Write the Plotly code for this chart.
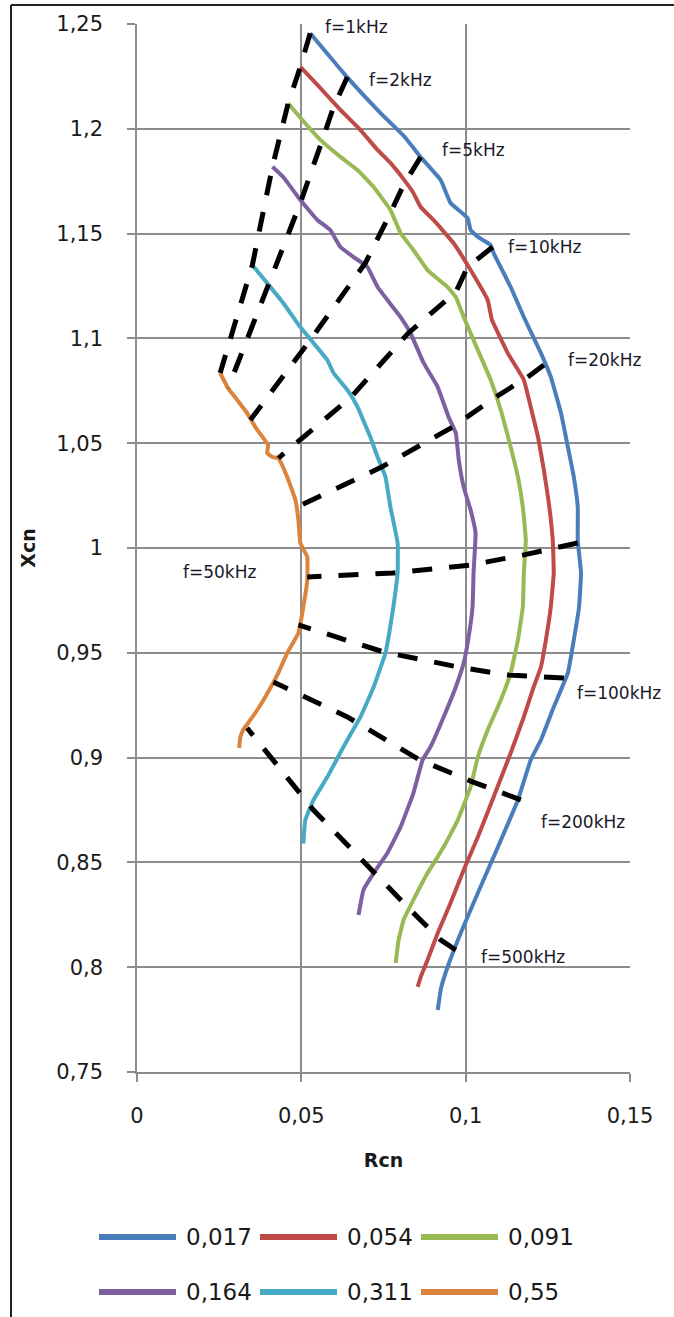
import plotly.graph_objects as go

# ---------------- data ----------------
series_names = ["0,017", "0,054", "0,091", "0,164", "0,311", "0,55"]
series_colors = ["#4A7EBB", "#BE4B48", "#98B954", "#7D60A0", "#46AAC5", "#DB843D"]

r_0017 = [0.0527, 0.0638, 0.0741, 0.0814, 0.0863, 0.0924, 0.0954, 0.1006, 0.1015, 0.1037, 0.1076, 0.1085,
          0.1137, 0.1177, 0.1229, 0.1259, 0.1290, 0.1311, 0.1329, 0.1341, 0.1341, 0.1351, 0.1345, 0.1329,
          0.1311, 0.1268, 0.1229, 0.1198, 0.1159, 0.1098, 0.1037, 0.0985, 0.0945, 0.0925, 0.0915]
x_0017 = [1.2456, 1.2249, 1.2075, 1.1962, 1.1865, 1.1756, 1.1646, 1.1574, 1.1517, 1.1484, 1.1446, 1.1407,
          1.1245, 1.1102, 1.0930, 1.0816, 1.0644, 1.0482, 1.0339, 1.0196, 1.0038, 0.9881, 0.9719, 0.9561,
          0.9404, 0.9241, 0.9084, 0.8989, 0.8798, 0.8573, 0.8354, 0.8163, 0.8001, 0.7900, 0.7796]

r_0054 = [0.0497, 0.0549, 0.0619, 0.0680, 0.0732, 0.0771, 0.0811, 0.0841, 0.0863, 0.0902, 0.0963, 0.1015,
          0.1067, 0.1080, 0.1128, 0.1177, 0.1198, 0.1220, 0.1238, 0.1253, 0.1265, 0.1268, 0.1259, 0.1244,
          0.1229, 0.1207, 0.1177, 0.1137, 0.1085, 0.1037, 0.0994, 0.0954, 0.0915, 0.0884, 0.0863, 0.0854]
x_0054 = [1.2296, 1.2209, 1.2090, 1.1994, 1.1899, 1.1837, 1.1760, 1.1694, 1.1627, 1.1565, 1.1455, 1.1326,
          1.1183, 1.1088, 1.0930, 1.0802, 1.0673, 1.0530, 1.0372, 1.0215, 1.0038, 0.9881, 0.9719, 0.9561,
          0.9432, 0.9337, 0.9194, 0.9022, 0.8812, 0.8621, 0.8464, 0.8306, 0.8163, 0.8034, 0.7953, 0.7906]

r_0091 = [0.0460, 0.0503, 0.0558, 0.0619, 0.0671, 0.0720, 0.0771, 0.0802, 0.0841, 0.0884, 0.0945, 0.0970,
          0.0994, 0.1037, 0.1076, 0.1107, 0.1137, 0.1159, 0.1174, 0.1183, 0.1177, 0.1174, 0.1159, 0.1137,
          0.1107, 0.1067, 0.1037, 0.1015, 0.0976, 0.0933, 0.0884, 0.0841, 0.0811, 0.0796, 0.0787]
x_0091 = [1.2122, 1.2042, 1.1947, 1.1866, 1.1803, 1.1722, 1.1613, 1.1503, 1.1422, 1.1326, 1.1245, 1.1198,
          1.1102, 1.0944, 1.0802, 1.0658, 1.0482, 1.0339, 1.0196, 1.0038, 0.9881, 0.9719, 0.9561, 0.9404,
          0.9275, 0.9132, 0.9003, 0.8860, 0.8702, 0.8573, 0.8449, 0.8321, 0.8225, 0.8130, 0.8020]

r_0164 = [0.0412, 0.0445, 0.0497, 0.0549, 0.0588, 0.0619, 0.0659, 0.0701, 0.0732, 0.0762, 0.0802, 0.0832,
          0.0872, 0.0915, 0.0948, 0.0970, 0.0979, 0.0994, 0.1015, 0.1030, 0.1024, 0.1021, 0.1009, 0.0994,
          0.0970, 0.0933, 0.0893, 0.0869, 0.0841, 0.0802, 0.0762, 0.0720, 0.0689, 0.0674]
x_0164 = [1.1819, 1.1770, 1.1660, 1.1565, 1.1517, 1.1436, 1.1388, 1.1341, 1.1245, 1.1183, 1.1102, 1.1026,
          1.0883, 1.0768, 1.0625, 1.0549, 1.0420, 1.0291, 1.0181, 1.0072, 0.9881, 0.9719, 0.9575, 0.9451,
          0.9337, 0.9194, 0.9051, 0.8989, 0.8831, 0.8669, 0.8545, 0.8449, 0.8368, 0.8249]

r_0311 = [0.0351, 0.0396, 0.0445, 0.0497, 0.0537, 0.0579, 0.0598, 0.0640, 0.0671, 0.0688, 0.0710, 0.0732,
          0.0756, 0.0771, 0.0793, 0.0793, 0.0780, 0.0768, 0.0756, 0.0720, 0.0680, 0.0628, 0.0579, 0.0537,
          0.0512, 0.0506]
x_0311 = [1.1350, 1.1264, 1.1169, 1.1054, 1.0978, 1.0897, 1.0835, 1.0754, 1.0673, 1.0611, 1.0530, 1.0434,
          1.0339, 1.0196, 1.0024, 0.9881, 0.9719, 0.9600, 0.9499, 0.9337, 0.9194, 0.9051, 0.8907, 0.8798,
          0.8702, 0.8590]

r_055 = [0.0253, 0.0277, 0.0305, 0.0335, 0.0360, 0.0384, 0.0399, 0.0396, 0.0412, 0.0430, 0.0457, 0.0482,
         0.0491, 0.0497, 0.0518, 0.0518, 0.0506, 0.0491, 0.0457, 0.0430, 0.0399, 0.0366, 0.0338, 0.0323,
         0.0314, 0.0311]
x_055 = [1.0835, 1.0763, 1.0706, 1.0644, 1.0577, 1.0525, 1.0491, 1.0453, 1.0434, 1.0429, 1.0339, 1.0229,
         1.0134, 1.0024, 0.9957, 0.9847, 0.9719, 0.9594, 0.9499, 0.9404, 0.9313, 0.9227, 0.9165, 0.9132,
         0.9094, 0.9046]

series_r = [r_0017, r_0054, r_0091, r_0164, r_0311, r_055]
series_x = [x_0017, x_0054, x_0091, x_0164, x_0311, x_055]

# iso-frequency (dashed) lines
freq_labels = ["f=1kHz", "f=2kHz", "f=5kHz", "f=10kHz", "f=20kHz",
               "f=50kHz", "f=100kHz", "f=200kHz", "f=500kHz"]
iso_r_1k = [0.0527, 0.0497, 0.0460, 0.0412, 0.0351, 0.0253]
iso_x_1k = [1.2456, 1.2296, 1.2122, 1.1819, 1.1350, 1.0835]
iso_r_2k = [0.0640, 0.0598, 0.0564, 0.0497, 0.0277]
iso_x_2k = [1.2247, 1.2104, 1.1947, 1.1646, 1.0763]
iso_r_5k = [0.0863, 0.0811, 0.0771, 0.0695, 0.0534, 0.0345]
iso_x_5k = [1.1865, 1.1732, 1.1598, 1.1360, 1.1007, 1.0611]
iso_r_10k = [0.1082, 0.1006, 0.0970, 0.0826, 0.0649, 0.0430]
iso_x_10k = [1.1436, 1.1341, 1.1221, 1.1026, 1.0716, 1.0429]
iso_r_20k = [0.1238, 0.1189, 0.1091, 0.0960, 0.0744, 0.0488]
iso_x_20k = [1.0873, 1.0816, 1.0720, 1.0577, 1.0386, 1.0196]
iso_r_50k = [0.1341, 0.1265, 0.1177, 0.1015, 0.0780, 0.0518]
iso_x_50k = [1.0024, 0.9995, 0.9967, 0.9919, 0.9881, 0.9862]
iso_r_100k = [0.1299, 0.1229, 0.1131, 0.0991, 0.0750, 0.0491]
iso_x_100k = [0.9380, 0.9385, 0.9394, 0.9428, 0.9504, 0.9633]
iso_r_200k = [0.1168, 0.1101, 0.1015, 0.0860, 0.0640, 0.0415]
iso_x_200k = [0.8798, 0.8836, 0.8888, 0.8989, 0.9194, 0.9361]
iso_r_500k = [0.0970, 0.0924, 0.0832, 0.0720, 0.0537, 0.0335]
iso_x_500k = [0.8082, 0.8130, 0.8273, 0.8454, 0.8750, 0.9141]

iso_r = [iso_r_1k, iso_r_2k, iso_r_5k, iso_r_10k, iso_r_20k, iso_r_50k, iso_r_100k, iso_r_200k, iso_r_500k]
iso_x = [iso_x_1k, iso_x_2k, iso_x_5k, iso_x_10k, iso_x_20k, iso_x_50k, iso_x_100k, iso_x_200k, iso_x_500k]

x_ticks = [0, 0.05, 0.1, 0.15]
y_ticks = [0.75, 0.8, 0.85, 0.9, 0.95, 1.0, 1.05, 1.1, 1.15, 1.2, 1.25]

# ---------------- figure ----------------
W, H = 674, 1317
ML, MR, MT, MB = 137, 44, 24, 245
PW, PH = W - ML - MR, H - MT - MB

fig = go.Figure()

for r, xv, name, col in zip(series_r, series_x, series_names, series_colors):
    fig.add_trace(go.Scatter(x=r, y=xv, mode="lines", name=name,
                             line=dict(color=col, width=4, shape="spline", smoothing=0.3),
                             showlegend=False))

for r, xv, lab in zip(iso_r, iso_x, freq_labels):
    fig.add_trace(go.Scatter(x=r, y=xv, mode="lines", name=lab,
                             line=dict(color="black", width=5, dash="20px,17px"),
                             showlegend=False))

# frequency label placement (layout, data coordinates of the left edge)
label_pos = [(0.0565, 1.2486), (0.0700, 1.2233), (0.0922, 1.1899), (0.1124, 1.1436),
             (0.1305, 1.0897), (0.0135, 0.9886), (0.1332, 0.9308), (0.1222, 0.8693),
             (0.1040, 0.8049)]
annotations = []
for lab, (ax_, ay_) in zip(freq_labels, label_pos):
    annotations.append(dict(x=ax_, y=ay_, xref="x", yref="y", text=lab, showarrow=False,
                            xanchor="left", yanchor="middle",
                            font=dict(family="DejaVu Sans", size=17, color="#1a1a2a")))

# custom legend below plot
def px_to_paper_x(px):
    return (px - ML) / PW

def px_to_paper_y(py):
    return (H - MB - py) / PH

shapes = []
leg_x0, leg_dx, leg_y0, leg_dy, leg_len = 99, 161, 1237, 55, 77
for i, (name, col) in enumerate(zip(series_names, series_colors)):
    c, rrow = i % 3, i // 3
    x0 = leg_x0 + c * leg_dx
    y0 = leg_y0 + rrow * leg_dy
    shapes.append(dict(type="line", xref="paper", yref="paper",
                       x0=px_to_paper_x(x0), x1=px_to_paper_x(x0 + leg_len),
                       y0=px_to_paper_y(y0), y1=px_to_paper_y(y0),
                       line=dict(color=col, width=6)))
    annotations.append(dict(x=px_to_paper_x(x0 + leg_len + 8), y=px_to_paper_y(y0),
                            xref="paper", yref="paper", text=name, showarrow=False,
                            xanchor="left", yanchor="middle",
                            font=dict(family="DejaVu Sans", size=23, color="#1a1a1a")))

# chart frame (top and left edges visible)
shapes.append(dict(type="line", xref="paper", yref="paper",
                   x0=px_to_paper_x(11), x1=px_to_paper_x(W + 20),
                   y0=px_to_paper_y(5), y1=px_to_paper_y(5),
                   line=dict(color="#222222", width=2)))
shapes.append(dict(type="line", xref="paper", yref="paper",
                   x0=px_to_paper_x(11), x1=px_to_paper_x(11),
                   y0=px_to_paper_y(5), y1=px_to_paper_y(H + 20),
                   line=dict(color="#222222", width=2)))

grid_col = "#8c8c8c"
fig.update_layout(
    template="none",
    width=W, height=H,
    margin=dict(l=ML, r=MR, t=MT, b=MB, pad=0),
    paper_bgcolor="white", plot_bgcolor="white",
    separators=", ",
    font=dict(family="DejaVu Sans", color="#1a1a1a"),
    showlegend=False,
    annotations=annotations,
    shapes=shapes,
    xaxis=dict(range=[0, 0.15], tickvals=x_ticks, showgrid=True, gridcolor=grid_col, gridwidth=1.5,
               zeroline=False, showline=True, linecolor=grid_col, linewidth=1.5,
               ticks="outside", ticklen=8, tickwidth=1.5, tickcolor=grid_col,
               ticklabelstandoff=16, tickfont=dict(size=21, color="#1a1a1a"),
               title=dict(text="Rcn", font=dict(size=19, weight="bold", color="#1a1a1a"), standoff=27),
               automargin=False, fixedrange=True),
    yaxis=dict(range=[0.75, 1.25], tickvals=y_ticks, showgrid=True, gridcolor=grid_col, gridwidth=1.5,
               zeroline=False, showline=True, linecolor=grid_col, linewidth=1.5,
               ticks="outside", ticklen=8, tickwidth=1.5, tickcolor=grid_col,
               ticklabelstandoff=20, tickfont=dict(size=21, color="#1a1a1a"),
               title=dict(text="Xcn", font=dict(size=19, weight="bold", color="#1a1a1a"), standoff=16),
               automargin=False, fixedrange=True),
)

fig.write_html("out.html")
